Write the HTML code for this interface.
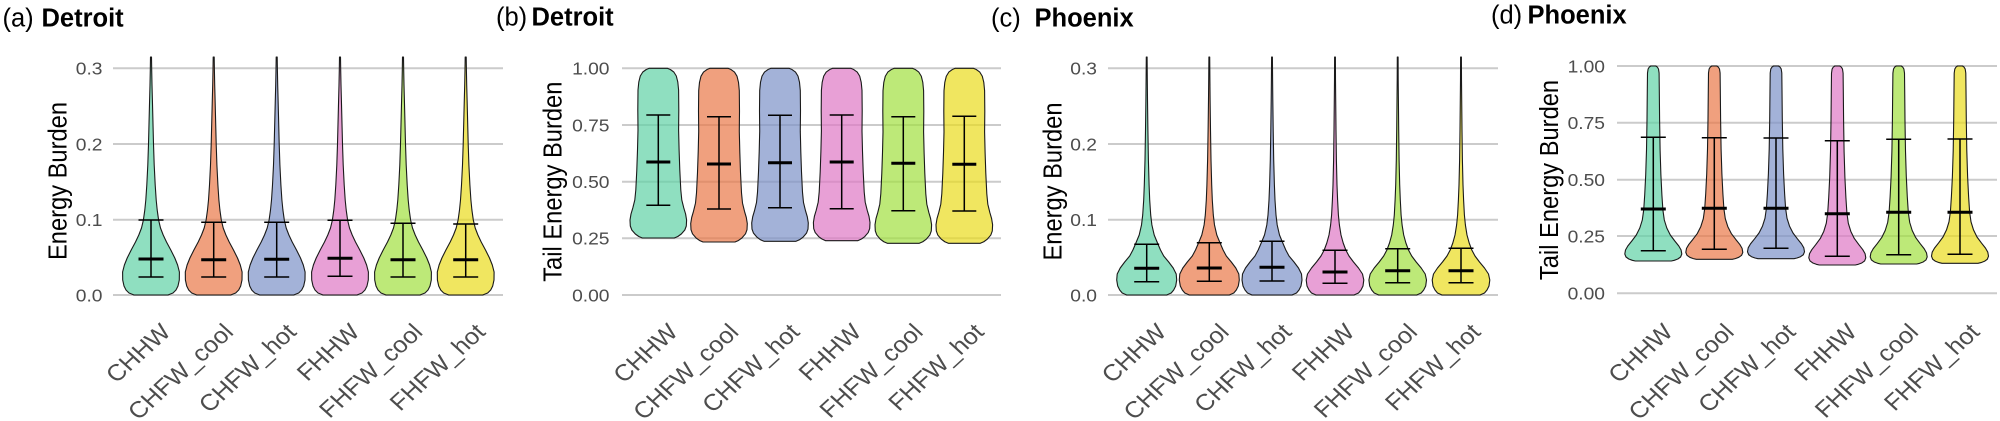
<!DOCTYPE html>
<html><head><meta charset="utf-8"><style>
html,body{margin:0;padding:0;background:#fff;}
svg{display:block;}
text{font-family:"Liberation Sans",Arial,sans-serif;}
.tk{font-size:17.5px;fill:#4d4d4d;}
.xl{font-size:23px;fill:#4d4d4d;}
.yt{font-size:23.7px;fill:#000;}
.tt{font-size:25.5px;fill:#000;}
.g{stroke:#cbcbcb;stroke-width:2;}
.eb{stroke:#000;stroke-width:1.5;fill:none;}
.md{stroke:#000;stroke-width:3;}
</style></head><body>
<svg width="2000" height="421" viewBox="0 0 2000 421" xmlns="http://www.w3.org/2000/svg">
<defs>
<path id="va" stroke="#1a1a1a" stroke-width="1.1" stroke-linejoin="round" fill-opacity="0.7" d="M0.5,57 L0.7,70 L1,85 L1.4,100 L1.9,120 L2.5,144 L3.2,165 L4.2,185 L5.2,200 L6.2,210 L7.6,220 L9.5,228 L12.2,235 L15.5,242 L19.8,250 L23.8,258 L26.6,265 L28.4,272 L28.3,280 L27,286 L25,290 L22,293 L17,295 L-17,295 L-22,293 L-25,290 L-27,286 L-28.3,280 L-28.4,272 L-26.6,265 L-23.8,258 L-19.8,250 L-15.5,242 L-12.2,235 L-9.5,228 L-7.6,220 L-6.2,210 L-5.2,200 L-4.2,185 L-3.2,165 L-2.5,144 L-1.9,120 L-1.4,100 L-1,85 L-0.7,70 L-0.5,57 Z"/>
<path id="vc" stroke="#1a1a1a" stroke-width="1.1" stroke-linejoin="round" fill-opacity="0.7" d="M0.4,57 L0.6,80 L0.8,100 L1.2,130 L1.7,160 L2.4,185 L3,200 L4,215 L5.2,225 L7.5,235 L10.8,243 L13.8,250 L17,256 L22,262 L26.5,268 L29.5,274 L30,280 L29,286 L27,290 L24.5,293 L20,295 L-20,295 L-24.5,293 L-27,290 L-29,286 L-30,280 L-29.5,274 L-26.5,268 L-22,262 L-17,256 L-13.8,250 L-10.8,243 L-7.5,235 L-5.2,225 L-4,215 L-3,200 L-2.4,185 L-1.7,160 L-1.2,130 L-0.8,100 L-0.6,80 L-0.4,57 Z"/>
<path id="vcf" stroke="#1a1a1a" stroke-width="1.1" stroke-linejoin="round" fill-opacity="0.7" d="M0.4,57 L0.5,80 L0.7,100 L1,130 L1.4,160 L2,185 L2.6,200 L3.4,215 L4.4,225 L6,235 L8.2,243 L10.8,250 L14,256 L18.5,262 L23.5,268 L27.5,274 L28.8,280 L28,286 L26,290 L23.5,293 L19,295 L-19,295 L-23.5,293 L-26,290 L-28,286 L-28.8,280 L-27.5,274 L-23.5,268 L-18.5,262 L-14,256 L-10.8,250 L-8.2,243 L-6,235 L-4.4,225 L-3.4,215 L-2.6,200 L-2,185 L-1.4,160 L-1,130 L-0.7,100 L-0.5,80 L-0.4,57 Z"/>
<path id="vb" stroke="#1a1a1a" stroke-width="1.1" stroke-linejoin="round" fill-opacity="0.7" vector-effect="non-scaling-stroke" d="M9,68.3 L12,69.5 L15.5,72 L18,76 L19.5,82 L20.3,90 L20.5,110 L20.3,130 L20.8,150 L21.5,170 L22.5,190 L23.5,200 L25.5,208 L27.3,214 L28.3,220 L28,226 L26.5,230 L23,234 L19.5,236.5 L16,238 L-16,238 L-19.5,236.5 L-23,234 L-26.5,230 L-28,226 L-28.3,220 L-27.3,214 L-25.5,208 L-23.5,200 L-22.5,190 L-21.5,170 L-20.8,150 L-20.3,130 L-20.5,110 L-20.3,90 L-19.5,82 L-18,76 L-15.5,72 L-12,69.5 L-9,68.3 Z"/>
<path id="vd" stroke="#1a1a1a" stroke-width="1.1" stroke-linejoin="round" fill-opacity="0.7" vector-effect="non-scaling-stroke" d="M2.5,66 L4,67 L5.2,69 L5.8,73 L6,90 L6.3,120 L6.8,150 L7.6,175 L8.6,195 L9.6,210 L11,220 L13.5,228 L17,235 L21.5,241 L25.5,246 L27.8,250 L28.5,254 L27.3,257 L24.5,259 L21,260.3 L18,261 L-18,261 L-21,260.3 L-24.5,259 L-27.3,257 L-28.5,254 L-27.8,250 L-25.5,246 L-21.5,241 L-17,235 L-13.5,228 L-11,220 L-9.6,210 L-8.6,195 L-7.6,175 L-6.8,150 L-6.3,120 L-6,90 L-5.8,73 L-5.2,69 L-4,67 L-2.5,66 Z"/>
</defs>

<!-- ================= Titles ================= -->
<text class="tt" x="2.5" y="26.5">(a)</text><text class="tt" x="41.5" y="26.5" font-weight="bold">Detroit</text>
<text class="tt" x="496" y="25.5">(b)</text><text class="tt" x="531.5" y="25.5" font-weight="bold">Detroit</text>
<text class="tt" x="991" y="26.5">(c)</text><text class="tt" x="1034.5" y="26.5" font-weight="bold">Phoenix</text>
<text class="tt" x="1491" y="23.5">(d)</text><text class="tt" x="1527.5" y="23.5" font-weight="bold">Phoenix</text>

<!-- ================= Panel (a) ================= -->
<g class="g">
<line x1="113" x2="503" y1="68.3" y2="68.3"/><line x1="113" x2="503" y1="144" y2="144"/>
<line x1="113" x2="503" y1="219.7" y2="219.7"/><line x1="113" x2="503" y1="295" y2="295"/>
</g>
<g class="tk" text-anchor="end">
<text transform="translate(102.5,74.6) scale(1.1,1)">0.3</text>
<text transform="translate(102.5,150.3) scale(1.1,1)">0.2</text>
<text transform="translate(102.5,226) scale(1.1,1)">0.1</text>
<text transform="translate(102.5,301.3) scale(1.1,1)">0.0</text>
</g>
<text class="yt" text-anchor="middle" transform="translate(66.5,181) scale(1.1,1) rotate(-90)">Energy Burden</text>
<use href="#va" transform="translate(151,0)" fill="#60D1A5"/>
<use href="#va" transform="translate(213.7,0)" fill="#EA7747"/>
<use href="#va" transform="translate(276.7,0)" fill="#7C92C7"/>
<use href="#va" transform="translate(340,0)" fill="#DE77C5"/>
<use href="#va" transform="translate(403,0)" fill="#A1E03E"/>
<use href="#va" transform="translate(465.7,0)" fill="#EADC1C"/>
<g class="eb">
<path d="M151,220V277M138.5,220H163.5M138.5,277H163.5"/>
<path d="M213.7,222.3V277M201.2,222.3H226.2M201.2,277H226.2"/>
<path d="M276.7,222.3V277M264.2,222.3H289.2M264.2,277H289.2"/>
<path d="M340,220.3V276.3M327.5,220.3H352.5M327.5,276.3H352.5"/>
<path d="M403,223.3V277M390.5,223.3H415.5M390.5,277H415.5"/>
<path d="M465.7,224V277M453.2,224H478.2M453.2,277H478.2"/>
</g>
<g class="md">
<line x1="138.5" x2="163.5" y1="259" y2="259"/><line x1="201.2" x2="226.2" y1="259.7" y2="259.7"/>
<line x1="264.2" x2="289.2" y1="259.3" y2="259.3"/><line x1="327.5" x2="352.5" y1="258.3" y2="258.3"/>
<line x1="390.5" x2="415.5" y1="259.7" y2="259.7"/><line x1="453.2" x2="478.2" y1="259.7" y2="259.7"/>
</g>
<g class="xl" text-anchor="end">
<text transform="translate(172,333.4) scale(1.1,1) rotate(-45)">CHHW</text>
<text transform="translate(234.7,333.4) scale(1.1,1) rotate(-45)">CHFW_cool</text>
<text transform="translate(297.7,333.4) scale(1.1,1) rotate(-45)">CHFW_hot</text>
<text transform="translate(361,333.4) scale(1.1,1) rotate(-45)">FHHW</text>
<text transform="translate(424,333.4) scale(1.1,1) rotate(-45)">FHFW_cool</text>
<text transform="translate(486.7,333.4) scale(1.1,1) rotate(-45)">FHFW_hot</text>
</g>

<!-- ================= Panel (b) ================= -->
<g class="g">
<line x1="622" x2="1001" y1="68.3" y2="68.3"/><line x1="622" x2="1001" y1="125" y2="125"/>
<line x1="622" x2="1001" y1="181.7" y2="181.7"/><line x1="622" x2="1001" y1="238.3" y2="238.3"/>
<line x1="622" x2="1001" y1="295" y2="295"/>
</g>
<g class="tk" text-anchor="end">
<text transform="translate(609.5,74.6) scale(1.1,1)">1.00</text>
<text transform="translate(609.5,131.3) scale(1.1,1)">0.75</text>
<text transform="translate(609.5,188) scale(1.1,1)">0.50</text>
<text transform="translate(609.5,244.6) scale(1.1,1)">0.25</text>
<text transform="translate(609.5,301.3) scale(1.1,1)">0.00</text>
</g>
<text class="yt" text-anchor="middle" transform="translate(561.5,181.7) scale(1.1,1) rotate(-90)">Tail Energy Burden</text>
<use href="#vb" transform="translate(658.3,0)" fill="#60D1A5"/>
<use href="#vb" transform="translate(719,68.3) scale(1,1.0236) translate(0,-68.3)" fill="#EA7747"/>
<use href="#vb" transform="translate(780,68.3) scale(1,1.0194) translate(0,-68.3)" fill="#7C92C7"/>
<use href="#vb" transform="translate(841.7,68.3) scale(1,1.0159) translate(0,-68.3)" fill="#DE77C5"/>
<use href="#vb" transform="translate(903.3,68.3) scale(1,1.0312) translate(0,-68.3)" fill="#A1E03E"/>
<use href="#vb" transform="translate(964.3,68.3) scale(1,1.0312) translate(0,-68.3)" fill="#EADC1C"/>
<g class="eb">
<path d="M658.3,115V205.3M646.3,115H670.3M646.3,205.3H670.3"/>
<path d="M719,116.7V209M707,116.7H731M707,209H731"/>
<path d="M780,115.3V207.7M768,115.3H792M768,207.7H792"/>
<path d="M841.7,115V208.7M829.7,115H853.7M829.7,208.7H853.7"/>
<path d="M903.3,116.7V210.7M891.3,116.7H915.3M891.3,210.7H915.3"/>
<path d="M964.3,116.3V211M952.3,116.3H976.3M952.3,211H976.3"/>
</g>
<g class="md">
<line x1="646.3" x2="670.3" y1="162" y2="162"/><line x1="707" x2="731" y1="164" y2="164"/>
<line x1="768" x2="792" y1="162.7" y2="162.7"/><line x1="829.7" x2="853.7" y1="162" y2="162"/>
<line x1="891.3" x2="915.3" y1="163.3" y2="163.3"/><line x1="952.3" x2="976.3" y1="164.3" y2="164.3"/>
</g>
<g class="xl" text-anchor="end">
<text transform="translate(679.3,333.4) scale(1.1,1) rotate(-45)">CHHW</text>
<text transform="translate(740,333.4) scale(1.1,1) rotate(-45)">CHFW_cool</text>
<text transform="translate(801,333.4) scale(1.1,1) rotate(-45)">CHFW_hot</text>
<text transform="translate(862.7,333.4) scale(1.1,1) rotate(-45)">FHHW</text>
<text transform="translate(924.3,333.4) scale(1.1,1) rotate(-45)">FHFW_cool</text>
<text transform="translate(985.3,333.4) scale(1.1,1) rotate(-45)">FHFW_hot</text>
</g>

<!-- ================= Panel (c) ================= -->
<g class="g">
<line x1="1108" x2="1498" y1="68.3" y2="68.3"/><line x1="1108" x2="1498" y1="144" y2="144"/>
<line x1="1108" x2="1498" y1="219.7" y2="219.7"/><line x1="1108" x2="1498" y1="295" y2="295"/>
</g>
<g class="tk" text-anchor="end">
<text transform="translate(1097,74.6) scale(1.1,1)">0.3</text>
<text transform="translate(1097,150.3) scale(1.1,1)">0.2</text>
<text transform="translate(1097,226) scale(1.1,1)">0.1</text>
<text transform="translate(1097,301.3) scale(1.1,1)">0.0</text>
</g>
<text class="yt" text-anchor="middle" transform="translate(1061.5,181.5) scale(1.1,1) rotate(-90)">Energy Burden</text>
<use href="#vc" transform="translate(1146.7,0)" fill="#60D1A5"/>
<use href="#vc" transform="translate(1209.3,0)" fill="#EA7747"/>
<use href="#vc" transform="translate(1272,0)" fill="#7C92C7"/>
<use href="#vcf" transform="translate(1335,0)" fill="#DE77C5"/>
<use href="#vcf" transform="translate(1397.7,0)" fill="#A1E03E"/>
<use href="#vcf" transform="translate(1461,0)" fill="#EADC1C"/>
<g class="eb">
<path d="M1146.7,244.3V281.7M1134.2,244.3H1159.2M1134.2,281.7H1159.2"/>
<path d="M1209.3,242.7V281.3M1196.8,242.7H1221.8M1196.8,281.3H1221.8"/>
<path d="M1272,241.3V281M1259.5,241.3H1284.5M1259.5,281H1284.5"/>
<path d="M1335,250.3V283.3M1322.5,250.3H1347.5M1322.5,283.3H1347.5"/>
<path d="M1397.7,248.7V282.7M1385.2,248.7H1410.2M1385.2,282.7H1410.2"/>
<path d="M1461,248.3V282.7M1448.5,248.3H1473.5M1448.5,282.7H1473.5"/>
</g>
<g class="md">
<line x1="1134.2" x2="1159.2" y1="268.3" y2="268.3"/><line x1="1196.8" x2="1221.8" y1="268" y2="268"/>
<line x1="1259.5" x2="1284.5" y1="267.3" y2="267.3"/><line x1="1322.5" x2="1347.5" y1="272" y2="272"/>
<line x1="1385.2" x2="1410.2" y1="270.7" y2="270.7"/><line x1="1448.5" x2="1473.5" y1="270.7" y2="270.7"/>
</g>
<g class="xl" text-anchor="end">
<text transform="translate(1167.7,333.4) scale(1.1,1) rotate(-45)">CHHW</text>
<text transform="translate(1230.3,333.4) scale(1.1,1) rotate(-45)">CHFW_cool</text>
<text transform="translate(1293,333.4) scale(1.1,1) rotate(-45)">CHFW_hot</text>
<text transform="translate(1356,333.4) scale(1.1,1) rotate(-45)">FHHW</text>
<text transform="translate(1418.7,333.4) scale(1.1,1) rotate(-45)">FHFW_cool</text>
<text transform="translate(1482,333.4) scale(1.1,1) rotate(-45)">FHFW_hot</text>
</g>

<!-- ================= Panel (d) ================= -->
<g class="g">
<line x1="1617" x2="1997" y1="66" y2="66"/><line x1="1617" x2="1997" y1="122.7" y2="122.7"/>
<line x1="1617" x2="1997" y1="179.7" y2="179.7"/><line x1="1617" x2="1997" y1="236" y2="236"/>
<line x1="1617" x2="1997" y1="293.3" y2="293.3"/>
</g>
<g class="tk" text-anchor="end">
<text transform="translate(1605,72.3) scale(1.1,1)">1.00</text>
<text transform="translate(1605,129) scale(1.1,1)">0.75</text>
<text transform="translate(1605,186) scale(1.1,1)">0.50</text>
<text transform="translate(1605,242.3) scale(1.1,1)">0.25</text>
<text transform="translate(1605,299.6) scale(1.1,1)">0.00</text>
</g>
<text class="yt" text-anchor="middle" transform="translate(1558,180) scale(1.1,1) rotate(-90)">Tail Energy Burden</text>
<use href="#vd" transform="translate(1653.3,0)" fill="#60D1A5"/>
<use href="#vd" transform="translate(1714.3,66) scale(1,0.9913) translate(0,-66)" fill="#EA7747"/>
<use href="#vd" transform="translate(1776,66) scale(1,0.9882) translate(0,-66)" fill="#7C92C7"/>
<use href="#vd" transform="translate(1837.3,66) scale(1,1.0205) translate(0,-66)" fill="#DE77C5"/>
<use href="#vd" transform="translate(1898.7,66) scale(1,1.0154) translate(0,-66)" fill="#A1E03E"/>
<use href="#vd" transform="translate(1960,66) scale(1,1.0118) translate(0,-66)" fill="#EADC1C"/>
<g class="eb">
<path d="M1653.3,137.3V250.7M1640.8,137.3H1665.8M1640.8,250.7H1665.8"/>
<path d="M1714.3,137.7V249.3M1701.8,137.7H1726.8M1701.8,249.3H1726.8"/>
<path d="M1776,138V248.3M1763.5,138H1788.5M1763.5,248.3H1788.5"/>
<path d="M1837.3,140.7V256.3M1824.8,140.7H1849.8M1824.8,256.3H1849.8"/>
<path d="M1898.7,139.3V254.7M1886.2,139.3H1911.2M1886.2,254.7H1911.2"/>
<path d="M1960,139V254.3M1947.5,139H1972.5M1947.5,254.3H1972.5"/>
</g>
<g class="md">
<line x1="1640.8" x2="1665.8" y1="209" y2="209"/><line x1="1701.8" x2="1726.8" y1="208.3" y2="208.3"/>
<line x1="1763.5" x2="1788.5" y1="208.3" y2="208.3"/><line x1="1824.8" x2="1849.8" y1="213.7" y2="213.7"/>
<line x1="1886.2" x2="1911.2" y1="212.3" y2="212.3"/><line x1="1947.5" x2="1972.5" y1="212.3" y2="212.3"/>
</g>
<g class="xl" text-anchor="end">
<text transform="translate(1674.3,333.4) scale(1.1,1) rotate(-45)">CHHW</text>
<text transform="translate(1735.3,333.4) scale(1.1,1) rotate(-45)">CHFW_cool</text>
<text transform="translate(1797,333.4) scale(1.1,1) rotate(-45)">CHFW_hot</text>
<text transform="translate(1858.3,333.4) scale(1.1,1) rotate(-45)">FHHW</text>
<text transform="translate(1919.7,333.4) scale(1.1,1) rotate(-45)">FHFW_cool</text>
<text transform="translate(1981,333.4) scale(1.1,1) rotate(-45)">FHFW_hot</text>
</g>
</svg>
</body></html>
